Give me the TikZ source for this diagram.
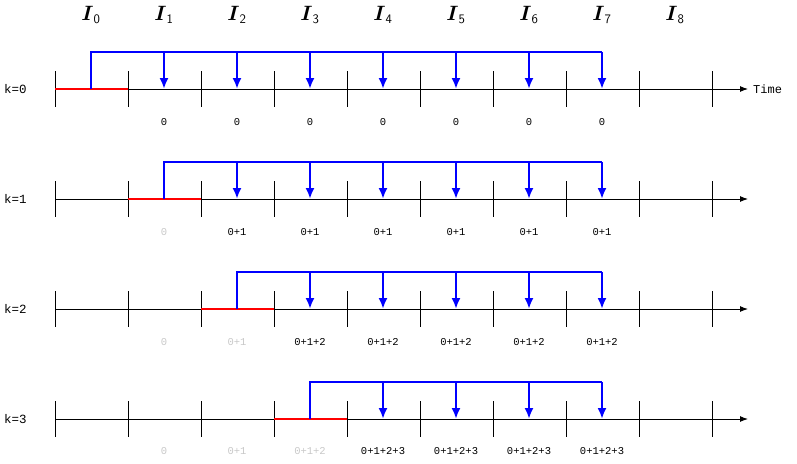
\documentclass[tikz,border=0pt]{standalone}
\usepackage{amsmath}
\usepackage{fontspec}
\setmonofont{Liberation Mono}
\usetikzlibrary{arrows.meta}
\usetikzlibrary{positioning}
\definecolor{lightgr}{RGB}{200,200,200}

\tikzset{
	axis/.style={black, line width=1pt, -{Latex[length=8pt,width=6pt]}},
	tickmark/.style={black, line width=1pt},
	runline/.style={red, line width=2.5pt},
	sendline/.style={blue, line width=2.5pt},
	sendarrow/.style={blue, line width=2.5pt, -{Latex[length=11pt,width=9pt]}},
	sumlabel/.style={font=\ttfamily\fontsize{10.5}{11}\selectfont, inner sep=1pt},
	rowlabel/.style={font=\ttfamily\fontsize{12.5}{13}\selectfont, anchor=west, inner sep=0pt},
}

\begin{document}
\begin{tikzpicture}[x=1pt, y=-1pt]
		\useasboundingbox (0,0) rectangle (797,463);

		% interval names
		\foreach \i in {0,...,8}
			\node (I\i) at ({91+73*\i},15) {\fontsize{22}{24}\selectfont$\boldsymbol{I}_{\textsf{\fontsize{13}{14}\selectfont\i}}$};

		\foreach \k in {0,...,3} {
			\pgfmathsetmacro{\ya}{89+110*\k}
			\coordinate (s\k) at (55,\ya);
			\coordinate (e\k) at (748,\ya);
			\node[rowlabel] (k\k) at (4,\ya) {k=\k};
			\draw[axis] (s\k) -- (e\k);
			\foreach \t in {0,...,9}
				\draw[tickmark] ({55+73*\t},\ya-18) -- ({55+73*\t},\ya+18);
			% red part: own interval
			\coordinate (r\k) at ({55+73*\k},\ya);
			\coordinate (q\k) at ({128+73*\k},\ya);
			\draw[runline] (r\k) -- (q\k);
			% blue part: sent on to later intervals
			\coordinate (b\k) at ({91+73*\k},\ya);
			\coordinate (t\k) at ({91+73*\k},\ya-37);
			\coordinate (u\k) at (602,\ya-37);
			\draw[sendline] (b\k) -- (t\k) -- (u\k);
			\foreach \i in {\k,...,7} {
				\ifnum\i>\k
					\coordinate (h\k-\i) at ({91+73*\i},\ya-37);
					\coordinate (m\k-\i) at ({91+73*\i},\ya);
					\draw[sendarrow] (h\k-\i) -- (m\k-\i);
				\fi
			}
		}

		% sums under the axes
		\foreach \i in {1,...,7}
			\node[sumlabel] (n0-\i) at ({91+73*\i},122) {0};
		\node[sumlabel, lightgr] (n1-1) at (164,232) {0};
		\foreach \i in {2,...,7}
			\node[sumlabel] (n1-\i) at ({91+73*\i},232) {0+1};
		\node[sumlabel, lightgr] (n2-1) at (164,342) {0};
		\node[sumlabel, lightgr] (n2-2) at (237,342) {0+1};
		\foreach \i in {3,...,7}
			\node[sumlabel] (n2-\i) at ({91+73*\i},342) {0+1+2};
		\node[sumlabel, lightgr] (n3-1) at (164,451) {0};
		\node[sumlabel, lightgr] (n3-2) at (237,451) {0+1};
		\node[sumlabel, lightgr] (n3-3) at (310,451) {0+1+2};
		\foreach \i in {4,...,7}
			\node[sumlabel] (n3-\i) at ({91+73*\i},451) {0+1+2+3};

		\node[sumlabel, anchor=west, font=\ttfamily\fontsize{12}{13}\selectfont] (time) at (752,89) {Time};
	\end{tikzpicture}
\end{document}
